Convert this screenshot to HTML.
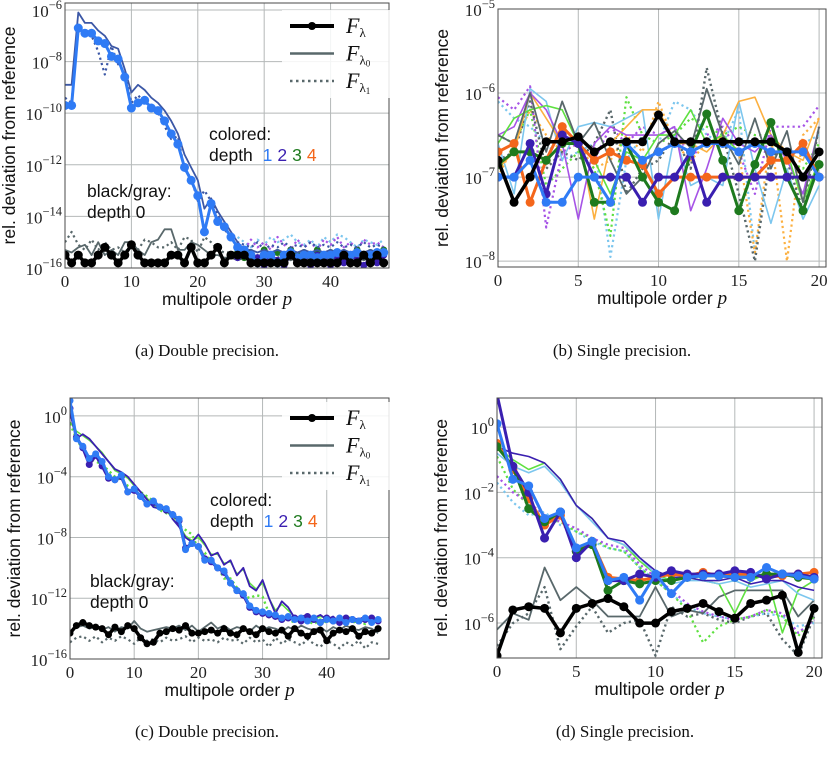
<!DOCTYPE html>
<html><head><meta charset="utf-8"><style>
body{margin:0;background:#fff}
svg{display:block}
.tk{font-family:"Liberation Serif","DejaVu Serif",serif;font-size:17px;fill:#222}
.lb{font-family:"Liberation Sans","DejaVu Sans",sans-serif;font-size:17.5px;fill:#111}
.cap{font-family:"Liberation Serif",serif;font-size:17px;fill:#111}
</style></head><body>
<svg id="fig" width="827" height="757" viewBox="0 0 827 757" xmlns="http://www.w3.org/2000/svg"></svg>
<script>
// ---------- data (log10 of rel. deviation) ----------
const aBlackF=[-15.5,-15.8,-15.5,-15.8,-15.8,-15.5,-15.2,-15.5,-15.8,-15.5,-15.1,-15.5,-15.8,-15.8,-15.8,-15.8,-15.5,-15.5,-15.8,-15.2,-15.8,-15.8,-15.5,-15.2,-15.8,-15.5,-15.5,-15.5,-15.8,-15.8,-15.8,-15.8,-15.8,-15.8,-15.5,-15.8,-15.8,-15.8,-15.8,-15.8,-15.8,-15.8,-15.5,-15.8,-15.8,-15.5,-15.8,-15.5,-15.8];
const aGrayF0=[-15.3,-15.4,-15.2,-15.1,-15.5,-15.0,-15.5,-15.3,-15.5,-15.0,-15.0,-15.3,-15.5,-15.0,-14.9,-14.5,-14.5,-15.3,-15.3,-15.0,-15.1,-15.3,-15.5,-15.5,-15.6,-15.6,-15.7,-15.6,-15.7,-15.5,-15.7,-15.6,-15.8,-15.6,-15.7,-15.6,-15.7,-15.6,-15.7,-15.6,-15.7,-15.6,-15.7,-15.6,-15.6,-15.7,-15.6,-15.7,-15.6];
const aGrayF1=[-15.0,-14.6,-15.1,-15.3,-14.9,-15.3,-15.0,-15.3,-15.2,-15.4,-15.1,-15.3,-14.9,-15.0,-15.2,-15.2,-15.0,-15.3,-14.8,-14.9,-15.4,-14.8,-15.0,-15.3,-15.4,-15.4,-15.6,-15.5,-15.5,-15.6,-15.5,-15.5,-15.6,-15.5,-15.6,-15.5,-15.5,-15.6,-15.5,-15.6,-15.5,-15.6,-15.5,-15.5,-15.6,-15.5,-15.6,-15.5,-15.6];
const aBlueF=[-9.7,-9.7,-6.7,-6.9,-6.9,-7.2,-7.3,-7.8,-7.9,-8.6,-9.8,-9.6,-9.5,-9.8,-9.9,-10.3,-10.8,-11.2,-12.1,-12.6,-13.2,-14.6,-13.5,-14.2,-14.4,-14.8,-15.2,-15.3,-15.5,-15.8,-15.5,-15.5,-15.8,-15.5,-15.4,-15.6,-15.5,-15.5,-15.6,-15.5,-15.5,-15.4,-15.5,-15.5,-15.4,-15.5,-15.5,-15.4,-15.4];
const aBlueF0=[-8.9,-8.9,-6.1,-6.5,-6.5,-6.8,-7.0,-7.4,-7.5,-8.3,-9.2,-8.9,-9.1,-9.4,-9.6,-9.9,-10.3,-10.8,-11.6,-12.1,-12.6,-13.7,-13.3,-13.8,-14.2,-14.6,-15.0,-15.3,-15.3,-15.4,-15.3,-15.4,-15.3,-15.4,-15.3,-15.4,-15.3,-15.4,-15.3,-15.4,-15.3,-15.4,-15.3,-15.4,-15.3,-15.4,-15.3,-15.4,-15.3];
const aBlueF1=[-9.4,-9.6,-6.8,-6.9,-7.0,-7.6,-8.5,-7.4,-8.1,-8.4,-9.6,-9.3,-9.6,-9.7,-10.0,-10.5,-11.0,-10.9,-12.2,-12.5,-13.4,-13.0,-13.4,-13.9,-14.5,-14.8,-15.0,-15.1,-15.2,-15.0,-15.3,-15.1,-15.2,-15.0,-15.2,-15.1,-15.2,-15.0,-15.2,-15.1,-15.2,-15.0,-15.2,-15.1,-15.2,-15.0,-15.2,-15.1,-15.2];
const aGreenTail=[-15.4,-15.6,-15.4,-15.7,-15.3,-15.5,-15.4,-15.6,-15.3,-15.5,-15.4,-15.5,-15.3,-15.5,-15.4,-15.6,-15.4,-15.5,-15.3,-15.5,-15.4,-15.5,-15.3];
const aIndigoTail=[-15.6,-15.5,-15.8,-15.6,-15.9,-15.5,-15.7,-15.9,-15.5,-15.8,-15.6,-15.9,-15.5,-15.7,-15.9,-15.6,-15.8,-15.5,-15.7,-15.9,-15.6,-15.8,-15.5];
const aLightBlueTail=[-14.8,-15.0,-15.2,-14.9,-15.1,-14.8,-15.0,-14.9,-14.7,-15.0,-15.1,-14.9,-15.2,-14.8,-15.0,-14.7,-14.8,-15.0,-15.2,-14.9,-15.0,-15.1,-14.9];
const aPurpleTail=[-15.0,-15.3,-14.9,-15.2,-15.0,-15.3,-14.8,-15.1,-15.3,-14.9,-15.2,-15.0,-15.3,-14.9,-15.1,-14.8,-15.2,-15.0,-15.3,-14.9,-15.1,-15.0,-15.2];

const bBlackF=[-6.8,-7.3,-7.0,-6.58,-6.58,-6.52,-6.7,-6.58,-6.58,-6.58,-6.26,-6.58,-6.58,-6.58,-6.58,-6.58,-6.58,-6.58,-6.7,-7.0,-6.7];
const bGrayF0=[-6.5,-6.6,-6.0,-6.7,-6.1,-6.6,-6.35,-6.8,-7.2,-7.0,-6.6,-6.45,-6.65,-5.95,-6.5,-6.85,-6.3,-6.9,-6.45,-7.3,-6.4];
const bGrayF1=[-6.8,-6.7,-6.1,-6.9,-6.7,-6.8,-6.6,-6.2,-7.2,-6.9,-6.8,-6.5,-6.9,-5.7,-6.5,-7.2,-8.0,-6.7,-6.8,-7.4,-6.4];
const bLightBlueF0=[-6.6,-7.2,-5.95,-6.1,-6.8,-6.4,-6.35,-6.4,-6.3,-6.2,-7.5,-6.5,-7.1,-7.0,-7.1,-6.1,-6.9,-7.55,-6.9,-7.5,-7.1];
const bOrangeF0=[-6.9,-6.7,-6.0,-6.3,-6.6,-6.5,-7.5,-6.6,-6.4,-6.2,-6.2,-6.6,-6.6,-6.7,-6.5,-6.1,-6.05,-6.5,-6.7,-6.8,-6.3];
const bPurpleF0=[-6.5,-6.4,-6.0,-6.2,-6.6,-7.5,-6.6,-6.4,-6.5,-6.5,-6.5,-6.4,-7.4,-6.9,-6.3,-6.6,-6.7,-6.5,-6.8,-7.2,-6.4];
const bGreenF0=[-6.6,-6.3,-6.2,-6.15,-6.2,-6.6,-6.8,-7.2,-6.7,-6.8,-6.5,-6.5,-6.2,-6.6,-6.5,-6.7,-6.6,-6.6,-6.7,-7.3,-6.8];
const bPurpleF1=[-6.05,-6.2,-5.92,-7.6,-6.7,-6.6,-6.8,-6.4,-6.6,-6.4,-6.5,-6.4,-6.8,-6.5,-6.4,-6.7,-7.2,-6.4,-6.4,-6.4,-6.15];
const bGreenF1=[-6.5,-6.6,-6.2,-7.1,-6.9,-6.7,-6.9,-7.7,-6.05,-6.5,-6.6,-6.5,-6.3,-6.4,-6.5,-6.4,-6.5,-6.5,-6.8,-6.9,-6.6];
const bLightBlueF1=[-6.1,-6.3,-6.4,-6.6,-6.8,-6.7,-6.6,-7.95,-6.8,-6.5,-6.6,-6.1,-6.2,-6.5,-6.6,-6.2,-7.9,-6.7,-6.8,-6.6,-6.5];
const bOrangeF1=[-7.0,-6.6,-6.2,-6.5,-6.7,-6.6,-6.9,-6.8,-6.5,-6.7,-6.1,-6.6,-6.8,-6.6,-6.5,-6.7,-7.9,-6.5,-8.0,-6.5,-6.3];
const bBlueF=[-7.0,-7.0,-6.8,-7.3,-7.3,-7.0,-7.0,-7.3,-6.6,-6.8,-6.7,-6.6,-6.7,-6.6,-6.6,-6.7,-6.6,-6.7,-6.7,-6.7,-7.0];
const bIndigoF=[-7.0,-7.0,-6.6,-7.2,-6.5,-6.6,-7.0,-7.0,-7.0,-7.3,-7.0,-7.0,-6.7,-7.3,-7.0,-7.0,-7.0,-7.0,-7.0,-7.0,-7.0];
const bGreenF=[-6.85,-6.7,-6.7,-6.8,-6.6,-6.6,-7.3,-7.3,-6.6,-7.0,-7.3,-7.4,-6.7,-6.25,-6.8,-7.4,-6.85,-6.35,-7.0,-7.4,-6.85];
const bOrangeF=[-6.7,-6.6,-7.3,-6.8,-6.4,-6.6,-6.8,-6.7,-6.8,-6.85,-7.2,-7.0,-7.0,-7.0,-7.0,-7.0,-7.0,-6.8,-6.8,-6.6,-7.0];

const cBlackF=[-14.3,-13.8,-13.6,-13.8,-13.9,-14.0,-14.4,-13.9,-14.2,-13.8,-14.0,-14.6,-15.0,-14.9,-14.3,-14.2,-14.0,-14.1,-13.8,-14.3,-14.3,-14.2,-14.1,-14.3,-14.0,-14.3,-14.4,-14.0,-14.2,-14.4,-14.0,-14.2,-14.3,-14.1,-14.5,-14.0,-14.3,-14.5,-14.2,-14.1,-14.8,-14.3,-14.1,-14.2,-14.0,-14.5,-14.2,-14.3,-14.0];
const cGrayF0=[-14.2,-13.9,-13.8,-14.0,-13.9,-14.1,-13.9,-14.2,-13.9,-14.0,-13.5,-14.0,-14.2,-14.1,-14.0,-13.9,-14.0,-13.8,-14.1,-13.8,-14.2,-13.9,-13.6,-14.0,-13.8,-14.1,-13.9,-14.0,-14.2,-13.8,-14.1,-13.9,-14.0,-14.2,-13.9,-14.1,-13.8,-14.0,-14.1,-13.9,-14.2,-13.9,-14.1,-13.8,-14.0,-14.1,-13.9,-14.0,-14.3];
const cGrayF1=[-14.9,-14.6,-14.5,-14.8,-14.5,-14.9,-14.6,-14.8,-14.5,-14.7,-15.0,-14.6,-14.8,-14.7,-14.9,-14.6,-14.8,-14.7,-14.5,-14.9,-14.6,-14.8,-14.7,-14.9,-14.6,-14.8,-14.7,-15.0,-14.6,-14.9,-14.7,-15.2,-14.6,-15.0,-14.7,-14.9,-15.1,-14.7,-15.0,-15.2,-14.8,-15.0,-15.3,-14.9,-15.1,-14.8,-15.3,-14.9,-15.0];
const cBlueF=[1.0,-1.5,-2.0,-2.8,-2.5,-3.0,-4.0,-4.2,-3.9,-5.0,-4.8,-5.3,-5.8,-5.6,-6.0,-6.1,-6.5,-6.8,-8.8,-8.4,-8.6,-9.5,-9.5,-10.0,-10.2,-11.0,-11.5,-11.7,-12.5,-12.8,-12.9,-13.0,-13.1,-13.3,-13.2,-13.4,-13.3,-13.5,-13.3,-13.6,-13.4,-13.5,-13.3,-13.6,-13.4,-13.5,-13.3,-13.6,-13.4];
const cBlueF0=[0.3,-1.5,-1.2,-1.5,-2.0,-2.5,-3.0,-3.5,-3.7,-4.0,-4.5,-5.0,-5.5,-6.0,-6.1,-6.0,-6.8,-7.3,-8.0,-8.3,-7.8,-8.4,-9.2,-9.0,-9.8,-9.5,-10.5,-10.0,-11.2,-11.5,-10.8,-12.0,-13.0,-12.2,-12.6,-13.3,-13.2,-13.1,-13.3,-13.1,-13.4,-13.2,-13.6,-13.3,-13.3,-13.4,-13.2,-13.6,-13.3];
const cColorF1=[-0.5,-1.5,-2.2,-2.8,-3.0,-3.2,-3.6,-4.0,-4.2,-4.6,-4.8,-5.0,-5.3,-5.6,-6.2,-6.4,-6.5,-7.2,-7.5,-7.8,-8.8,-9.0,-9.6,-9.9,-10.7,-10.7,-11.3,-11.8,-12.0,-11.8,-11.9,-13.0,-13.2,-13.5,-13.4,-13.6,-13.3,-13.5,-13.7,-13.4,-13.6,-13.5,-13.7,-13.4,-13.6,-13.5,-13.7,-13.4,-13.6];
const cIndigoF=[0.5,-1.4,-2.1,-3.2,-2.6,-3.3,-4.1,-4.2,-4.0,-5.0,-4.9,-5.3,-5.8,-5.7,-6.0,-6.2,-6.5,-6.9,-8.7,-8.4,-8.6,-9.4,-9.6,-10.0,-10.3,-11.0,-11.5,-11.8,-12.6,-12.9,-13.0,-13.1,-13.2,-13.4,-13.3,-13.3,-13.5,-13.2,-13.4,-13.6,-13.3,-13.5,-13.6,-13.3,-13.4,-13.5,-13.4,-13.3,-13.5];
const cGreenF0=[-0.4,-1.0,-1.3,-1.6,-2.0,-2.4,-3.0,-3.6,-3.8,-4.1,-4.6,-5.0,-5.4,-5.9,-6.2,-6.2,-6.8,-7.2,-7.9,-8.2,-8.0,-8.5,-9.1,-9.1,-9.7,-9.6,-10.4,-10.1,-11.0,-11.4,-11.0,-12.0,-12.8,-12.4,-12.8,-13.2,-13.3,-13.1,-13.4,-13.2,-13.3,-13.3,-13.5,-13.2,-13.3,-13.5,-13.3,-13.5,-13.2];

const dBlackF=[-7.0,-5.6,-5.5,-5.55,-6.3,-5.55,-5.4,-5.25,-5.5,-6.0,-6.0,-5.65,-5.55,-5.4,-5.65,-5.85,-5.4,-5.3,-5.15,-6.9,-5.55];
const dGrayF0=[-6.2,-5.7,-5.9,-4.3,-5.3,-4.9,-5.3,-5.8,-5.8,-5.8,-4.9,-5.8,-5.6,-5.7,-5.2,-5.0,-5.0,-5.0,-5.0,-5.8,-5.3];
const dGrayF1=[-6.7,-6.0,-5.7,-4.9,-6.8,-6.1,-5.5,-6.3,-6.0,-5.9,-7.0,-5.5,-5.8,-5.7,-5.9,-6.0,-5.8,-5.7,-6.5,-7.0,-5.8];
const dColorF0=[-0.6,-0.8,-0.9,-1.1,-1.6,-2.4,-2.8,-3.4,-3.5,-4.0,-4.4,-4.6,-4.6,-4.7,-4.7,-4.6,-4.8,-4.7,-4.7,-4.9,-5.0];
const dGreenF0=[-0.6,-1.0,-1.3,-1.1,-1.6,-2.4,-2.8,-3.4,-3.6,-4.1,-4.5,-4.7,-4.6,-4.7,-4.8,-5.7,-4.7,-4.5,-6.3,-5.0,-4.7];
const dLightBlueF0=[-0.8,-1.2,-1.4,-1.2,-1.7,-2.4,-2.9,-3.4,-3.6,-4.0,-4.5,-4.8,-4.7,-4.7,-4.8,-4.7,-4.9,-4.8,-4.7,-5.1,-5.3];
const dColorF1=[-1.5,-2.0,-2.3,-2.7,-2.9,-3.1,-3.4,-3.6,-3.7,-4.2,-4.6,-5.0,-5.4,-5.65,-5.8,-5.9,-5.8,-5.6,-5.7,-6.3,-5.9];
const dGreenF1=[-0.9,-1.9,-2.4,-2.8,-2.9,-3.2,-3.4,-3.7,-3.8,-4.3,-4.7,-5.1,-5.6,-6.6,-6.1,-5.9,-5.8,-5.6,-5.8,-6.4,-5.8];
const dLightBlueF1=[-1.7,-2.3,-2.7,-2.6,-3.0,-3.2,-3.5,-3.7,-3.8,-4.3,-4.7,-5.1,-5.5,-5.7,-5.8,-5.9,-5.8,-5.7,-5.8,-6.1,-6.0];
const dIndigoF=[1.0,-1.2,-2.0,-3.4,-2.6,-4.0,-3.5,-4.7,-4.7,-4.5,-4.6,-4.4,-4.5,-4.5,-4.5,-4.4,-4.45,-4.65,-4.5,-4.5,-4.6];
const dGreenF=[-0.6,-1.2,-2.5,-2.9,-2.6,-3.8,-3.6,-5.0,-4.7,-4.8,-4.7,-4.7,-4.6,-4.55,-4.55,-4.6,-4.6,-4.5,-4.5,-4.6,-4.65];
const dOrangeF=[-0.5,-1.3,-2.2,-3.0,-2.7,-3.8,-3.5,-4.6,-4.65,-4.7,-4.6,-4.5,-4.55,-4.45,-4.55,-4.5,-4.5,-4.6,-4.55,-4.5,-4.45];
const dBlueF=[0.1,-1.6,-1.8,-2.8,-2.6,-3.7,-3.5,-4.7,-4.6,-5.3,-4.5,-5.1,-4.6,-4.55,-4.55,-4.6,-4.6,-4.3,-4.5,-4.55,-4.65];

const aYTicks=[-6,-8,-10,-12,-14,-16], aXTicks=[0,10,20,30,40];
const bYTicks=[-5,-6,-7,-8], bXTicks=[0,5,10,15,20];
const cYTicks=[0,-4,-8,-12,-16], cXTicks=[0,10,20,30,40];
const dYTicks=[0,-2,-4,-6], dXTicks=[0,5,10,15,20];

// ---------- drawing ----------
const NS='http://www.w3.org/2000/svg';
const svg=document.getElementById('fig');
function el(tag,attrs,parent){const e=document.createElementNS(NS,tag);for(const k in attrs)e.setAttribute(k,attrs[k]);(parent||svg).appendChild(e);return e;}
const C={blue:'#2f7bf5',indigo:'#3a1fb0',green:'#1e7a1e',orange:'#f4661b',dblue:'#3b57a6',lblue:'#7cc6ee',purple:'#a653e6',lgreen:'#5ee040',lorange:'#fcb040',gray:'#59686b',black:'#000'};

function panel(id,box,xr,yr,xt,yt,series){
  const g=el('g',{});
  
  
  const X=v=>box.x0+(v-xr[0])/(xr[1]-xr[0])*(box.x1-box.x0);
  const Y=v=>box.y1-(v-yr[0])/(yr[1]-yr[0])*(box.y1-box.y0);
  const cp=el('clipPath',{id:'clip'+id},g);
  el('rect',{x:box.x0,y:box.y0,width:box.x1-box.x0,height:box.y1-box.y0},cp);
  xt.forEach(t=>{const l=el('line',{x1:X(t),x2:X(t),y1:box.y0,y2:box.y1,stroke:'#b4b8b8','stroke-width':1},g);
    const tx=el('text',{x:X(t),y:box.y1+19,'text-anchor':'middle',class:'tk'},g);tx.textContent=t;});
  yt.forEach(t=>{const l=el('line',{x1:box.x0,x2:box.x1,y1:Y(t),y2:Y(t),stroke:'#b4b8b8','stroke-width':1},g);
    const tx=el('text',{x:box.x0-3,y:Y(t)+7,'text-anchor':'end',class:'tk'},g);
    tx.appendChild(document.createTextNode('10'));const s=el('tspan',{dy:-8,'font-size':'12.5'},tx);s.textContent=t===0?'0':'−'+(-t);});
  const pg=el('g',{'clip-path':'url(#clip'+id+')'},g);
  series.forEach(s=>{
    const st=s.start||0;
    const pts=s.data.map((v,i)=>X(st+i).toFixed(1)+','+Y(v).toFixed(1)).join(' ');
    const pl=el('polyline',{points:pts,fill:'none',stroke:s.c,'stroke-width':s.w,'stroke-linejoin':'round','stroke-dasharray':s.dash?'2.2,3.2':'none'},pg);
    
    
    if(s.m){s.data.forEach((v,i)=>{const c=el('circle',{cx:X(st+i),cy:Y(v),r:s.m,fill:s.c},pg);
      
      });}
  });
  const fr=el('rect',{x:box.x0,y:box.y0,width:box.x1-box.x0,height:box.y1-box.y0,fill:'none',stroke:'#4a4a4a','stroke-width':1},g);
  
  const xl=el('text',{x:(box.x0+box.x1)/2,y:box.y1+37,'text-anchor':'middle',class:'lb'},g);
  
  xl.appendChild(document.createTextNode('multipole order '));const it=el('tspan',{'font-family':'Liberation Serif,serif','font-style':'italic','font-size':'19'},xl);it.textContent='p';
  const yc=(box.y0+box.y1)/2, yx=box.x0-50;
  const yl=el('text',{x:yx,y:yc,'text-anchor':'middle',class:'lb',transform:'rotate(-90 '+yx+' '+yc+')'},g);
  
  yl.textContent='rel. deviation from reference';
  return {g,X,Y};
}
function legend(g,x,y){
  const bg=el('rect',{x:x-8,y:y-16,width:116,height:88,fill:'#fff',opacity:0.85},g);
  
  const ent=[['λ','',4,C.black,false,true],['λ','0',2.5,C.gray,false,false],['λ','1',2.5,C.gray,true,false]];
  ent.forEach((e,i)=>{const yy=y+i*27.5;
    const l=el('line',{x1:x,x2:x+44,y1:yy,y2:yy,stroke:e[3],'stroke-width':e[2],'stroke-dasharray':e[4]?'2.5,3.5':'none'},g);
    
    if(e[5]){el('circle',{cx:x+22,cy:yy,r:4,fill:'#000'},g);}
    const t=el('text',{x:x+56,y:yy+7,'font-family':'Liberation Serif,serif','font-style':'italic','font-size':'22',fill:'#111'},g);
    
    t.appendChild(document.createTextNode('F'));const s=el('tspan',{dy:4,'font-size':'13','font-style':'normal'},t);s.textContent=e[0];
    if(e[1]){const s2=el('tspan',{dy:2,'font-size':'9','font-style':'normal'},t);s2.textContent=e[1];}
  });
}
function notes(g,x,y,x2,y2){
  const t1=el('text',{x:x,y:y,class:'lb'},g);t1.textContent='colored:';
  const t2=el('text',{x:x,y:y+21,class:'lb'},g);
  t2.appendChild(document.createTextNode('depth '));
  [['1',C.blue],['2',C.indigo],['3',C.green],['4',C.orange]].forEach(d=>{const s=el('tspan',{fill:d[1],dx:5},t2);s.textContent=d[0];});
  const t3=el('text',{x:x2,y:y2,class:'lb'},g);t3.textContent='black/gray:';
  const t4=el('text',{x:x2,y:y2+21,class:'lb'},g);t4.textContent='depth 0';
}
function caption(x,y,s,n){const t=el('text',{x:x,y:y,'text-anchor':'middle',class:'cap'});t.textContent=s;}

let P=panel('a',{x0:65,x1:389,y0:3,y1:268},[0,48.8],[-16,-5.73],aXTicks,aYTicks,[
 {name:'a-lightblue-f1',data:aLightBlueTail,start:26,c:C.lblue,w:2.2,dash:true},
 {name:'a-purple-f1',data:aPurpleTail,start:26,c:C.purple,w:2.2,dash:true},
 {name:'a-gray-f1',data:aGrayF1,c:C.gray,w:2.2,dash:true},
 {name:'a-gray-f0',data:aGrayF0,c:C.gray,w:1.8},
 {name:'a-green-f',data:aGreenTail,start:26,c:C.green,w:2.5,m:3.5},
 {name:'a-indigo-f',data:aIndigoTail,start:26,c:C.indigo,w:2.5,m:3.5},
 {name:'a-blue-f1',data:aBlueF1,c:C.dblue,w:2.2,dash:true},
 {name:'a-blue-f0',data:aBlueF0,c:C.dblue,w:1.8},
 {name:'a-blue-f',data:aBlueF,c:C.blue,w:3,m:4.5},
 {name:'a-black-f',data:aBlackF,c:C.black,w:3.5,m:4.5}]);
legend(P.g,290,26); notes(P.g,209,140,87,197);

P=panel('b',{x0:498,x1:826,y0:9,y1:267},[0,20.43],[-8.07,-5],bXTicks,bYTicks,[
 {name:'b-lightblue-f1',data:bLightBlueF1,c:C.lblue,w:2.2,dash:true},
 {name:'b-orange-f1',data:bOrangeF1,c:C.lorange,w:2.2,dash:true},
 {name:'b-green-f1',data:bGreenF1,c:C.lgreen,w:2.2,dash:true},
 {name:'b-purple-f1',data:bPurpleF1,c:C.purple,w:2.2,dash:true},
 {name:'b-gray-f1',data:bGrayF1,c:C.gray,w:2.4,dash:true},
 {name:'b-lightblue-f0',data:bLightBlueF0,c:C.lblue,w:1.6},
 {name:'b-orange-f0',data:bOrangeF0,c:C.lorange,w:1.6},
 {name:'b-purple-f0',data:bPurpleF0,c:C.purple,w:1.6},
 {name:'b-green-f0',data:bGreenF0,c:C.lgreen,w:1.6},
 {name:'b-gray-f0',data:bGrayF0,c:C.gray,w:1.8},
 {name:'b-orange-f',data:bOrangeF,c:C.orange,w:3,m:4.5},
 {name:'b-green-f',data:bGreenF,c:C.green,w:3,m:4.5},
 {name:'b-indigo-f',data:bIndigoF,c:C.indigo,w:3,m:4.5},
 {name:'b-blue-f',data:bBlueF,c:C.blue,w:3,m:4.5},
 {name:'b-black-f',data:bBlackF,c:C.black,w:3.5,m:4.5}]);

P=panel('c',{x0:70,x1:389,y0:398,y1:659},[0,49.7],[-16,1.18],cXTicks,cYTicks,[
 {name:'c-gray-f1',data:cGrayF1,c:C.gray,w:2.2,dash:true},
 {name:'c-gray-f0',data:cGrayF0,c:C.gray,w:1.8},
 {name:'c-green-f0',data:cGreenF0,c:C.lgreen,w:1.5},
 {name:'c-color-f1',data:cColorF1,c:C.lgreen,w:2.4,dash:true},
 {name:'c-blue-f0',data:cBlueF0,c:C.indigo,w:1.8},
 {name:'c-indigo-f',data:cIndigoF,c:C.indigo,w:3,m:3.5},
 {name:'c-blue-f',data:cBlueF,c:C.blue,w:3,m:3.5},
 {name:'c-black-f',data:cBlackF,c:C.black,w:3.5,m:3.5}]);
legend(P.g,290,418); notes(P.g,210,506,90,587);

P=panel('d',{x0:497,x1:822,y0:398,y1:658},[0,20.5],[-7.07,0.89],dXTicks,dYTicks,[
 {name:'d-gray-f1',data:dGrayF1,c:C.gray,w:2.4,dash:true},
 {name:'d-lightblue-f1',data:dLightBlueF1,c:C.lblue,w:2.2,dash:true},
 {name:'d-green-f1',data:dGreenF1,c:C.lgreen,w:2.2,dash:true},
 {name:'d-color-f1',data:dColorF1,c:C.purple,w:2.2,dash:true},
 {name:'d-gray-f0',data:dGrayF0,c:C.gray,w:1.8},
 {name:'d-green-f0',data:dGreenF0,c:C.lgreen,w:1.6},
 {name:'d-lightblue-f0',data:dLightBlueF0,c:C.lblue,w:1.6},
 {name:'d-color-f0',data:dColorF0,c:C.indigo,w:1.6},
 {name:'d-orange-f',data:dOrangeF,c:C.orange,w:3,m:4.5},
 {name:'d-green-f',data:dGreenF,c:C.green,w:3,m:4.5},
 {name:'d-indigo-f',data:dIndigoF,c:C.indigo,w:3,m:4.5},
 {name:'d-blue-f',data:dBlueF,c:C.blue,w:3,m:4.5},
 {name:'d-black-f',data:dBlackF,c:C.black,w:3.5,m:4.5}]);

caption(207,356,'(a) Double precision.','caption-a');
caption(622,356,'(b) Single precision.','caption-b');
caption(207,737,'(c) Double precision.','caption-c');
caption(625,737,'(d) Single precision.','caption-d');
</script>
</body></html>
